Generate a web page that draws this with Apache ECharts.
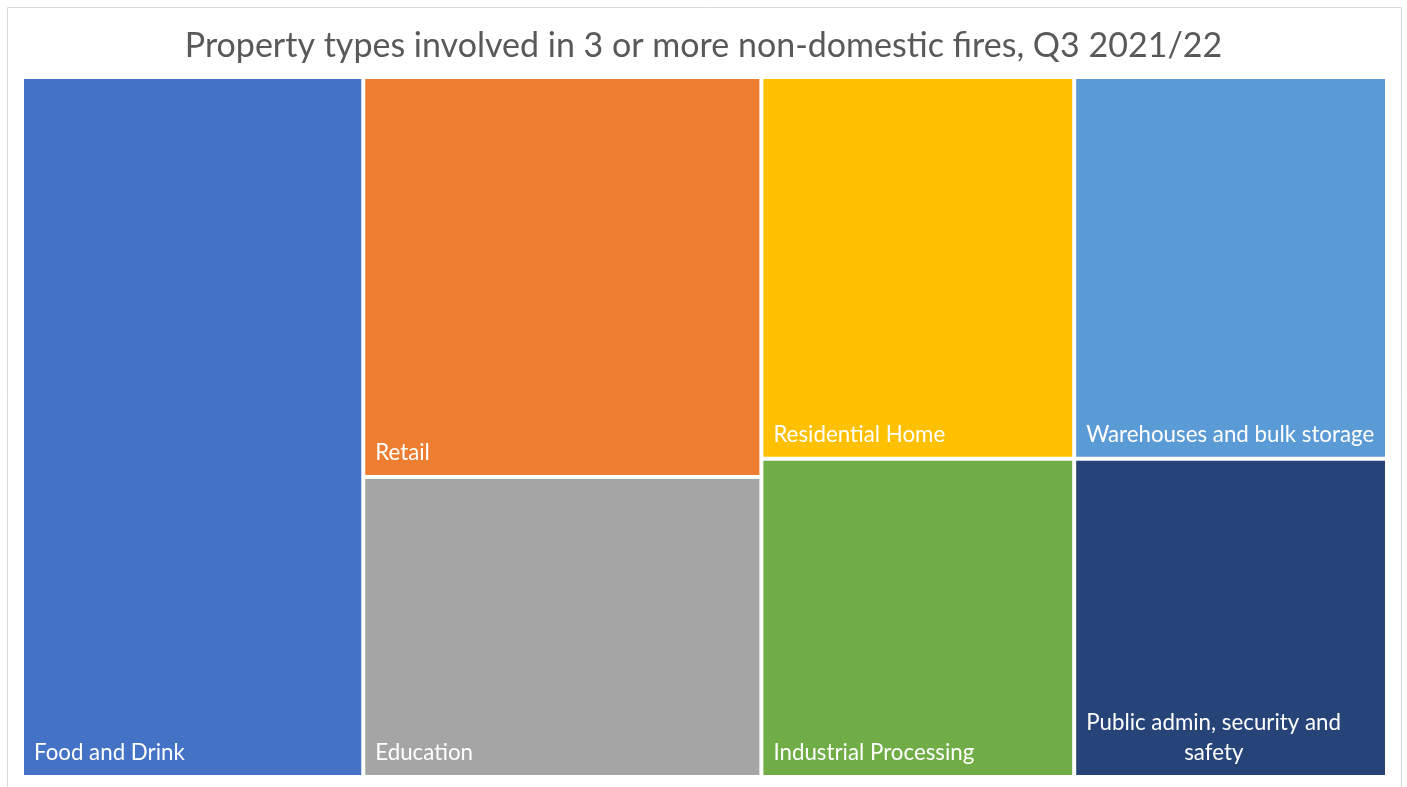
<!DOCTYPE html>
<html><head><meta charset="utf-8">
<script src="https://cdn.jsdelivr.net/npm/echarts@6/dist/echarts.min.js"></script>
<style>html,body{margin:0;padding:0;background:#fff}#c{width:1407px;height:787px}</style>
</head><body><div id="c"></div>
<script>
const chartTitle = 'Property types involved in 3 or more non-domestic fires, Q3 2021/22';
const categories = ['Food and Drink', 'Retail', 'Education', 'Residential Home', 'Industrial Processing', 'Warehouses and bulk storage', 'Public admin, security and\nsafety'];
const values = [12, 8, 6, 6, 5, 6, 5];
const colors = ['#4472C4', '#ED7D31', '#A5A5A5', '#FFC000', '#70AD47', '#5B9BD5', '#264478'];
// how the categories are grouped into blocks (indexes into categories)
const groups = [0, [[1, 2], [[3, 4], [5, 6]]]];

const FONT = 'Lato';
const LABEL_SIZE = 22.3;
const LINE_H = 30;

const measureCtx = document.createElement('canvas').getContext('2d');
measureCtx.font = LABEL_SIZE + 'px ' + FONT;
function tw(s) { return measureCtx.measureText(s).width; }

function labelText(name) {
  const lines = name.split('\n');
  const maxW = Math.max.apply(null, lines.map(tw));
  return lines.map(function (l) {
    const pad = Math.round((maxW - tw(l)) / 2);
    return (pad > 0 ? '{p' + pad + '|}' : '') + '{a|' + l + '}';
  }).join('\n');
}

const rich = { a: { color: '#ffffff', fontFamily: FONT, fontSize: LABEL_SIZE, lineHeight: LINE_H } };
for (let i = 1; i < 400; i++) rich['p' + i] = { width: i, lineHeight: LINE_H };

function build(g) {
  if (typeof g === 'number') {
    const nLines = categories[g].split('\n').length;
    return {
      name: categories[g],
      value: values[g],
      itemStyle: { color: colors[g], borderWidth: 2, borderColor: '#ffffff', gapWidth: 0 },
      label: { offset: [0, -37 - LINE_H * (nLines - 1)] }
    };
  }
  return { name: '', children: g.map(build) };
}

const chart = echarts.init(document.getElementById('c'), null, { renderer: 'canvas' });
chart.setOption({
  animation: false,
  backgroundColor: '#ffffff',
  title: {
    text: chartTitle,
    left: 'center',
    top: 24,
    textStyle: { fontFamily: FONT, fontSize: 34, fontWeight: 'normal', color: '#595959' }
  },
  graphic: [{
    type: 'rect',
    shape: { x: 7.5, y: 7.5, width: 1394, height: 800 },
    style: { fill: 'none', stroke: '#d9d9d9', lineWidth: 1 },
    silent: true, z: -1
  }],
  tooltip: { show: false },
  series: [{
    type: 'treemap',
    left: 22, top: 77, width: 1365, height: 700,
    sort: false,
    squareRatio: 1.3,
    roam: false,
    nodeClick: false,
    breadcrumb: { show: false },
    itemStyle: { borderWidth: 0, gapWidth: 0, borderColor: '#ffffff' },
    upperLabel: { show: false },
    label: {
      show: true,
      position: [10, '100%'],
      padding: 0,
      color: '#ffffff',
      fontFamily: FONT,
      fontSize: LABEL_SIZE,
      overflow: 'none',
      formatter: function (p) { return labelText(p.name); },
      rich: rich
    },
    emphasis: { disabled: true },
    data: groups.map(build)
  }]
});
</script></body></html>
